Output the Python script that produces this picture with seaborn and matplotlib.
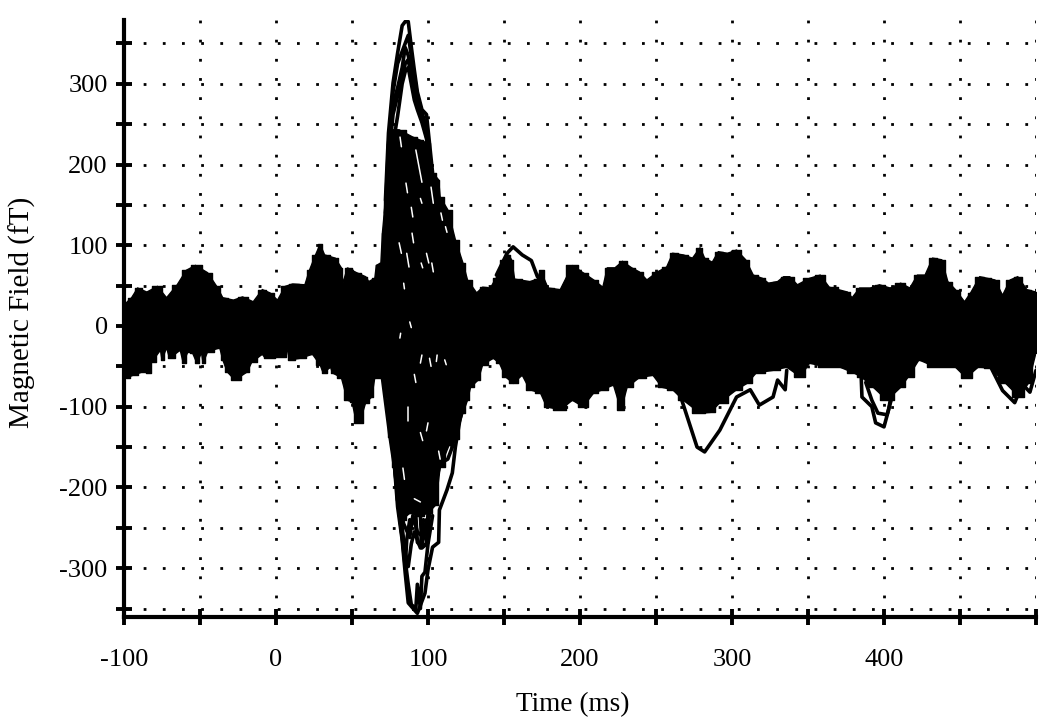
import pandas as pd
import matplotlib
matplotlib.use('Agg')
import matplotlib.pyplot as plt
import seaborn as sns

# Outer edge of the dense black band (ms, fT)
upper_t = [-100, -95, -91, -85, -78, -72, -65, -59, -53, -45, -39, -35, -28, -22, -15, -9, -4, 1, 6, 11, 19, 22, 26, 29,
           32, 39, 43, 44, 47, 53, 59, 61, 65, 66, 69, 70, 72, 74, 76, 81, 90, 95, 99, 103, 107, 108, 113, 118, 123,
           126, 132, 136, 141, 145, 150, 153, 155, 157, 167, 172, 174, 179, 187, 195, 202, 209, 215, 218, 223, 228, 234,
           239, 244, 251, 257, 261, 268, 274, 279, 282, 287, 291, 297, 303, 309, 314, 320, 324, 330, 334, 338, 343,
           351, 358, 364, 376, 379, 384, 391, 397, 404, 411, 417, 422, 427, 432, 438, 442, 447, 453, 457, 463, 468,
           473, 478, 483, 488, 494, 500]
upper_v = [26, 35, 47, 42, 49, 35, 51, 69, 75, 66, 49, 35, 32, 36, 30, 45, 41, 32, 49, 52, 51, 69, 88, 101,
           88, 84, 72, 53, 72, 66, 61, 55, 59, 75, 78, 115, 156, 225, 243, 243, 234, 230, 227, 190, 181, 160, 144,
           107, 78, 57, 41, 48, 47, 60, 82, 88, 82, 58, 55, 58, 69, 47, 45, 75, 66, 57, 48, 72, 72, 80, 72,
           67, 57, 67, 73, 90, 88, 84, 97, 84, 79, 92, 90, 94, 82, 63, 59, 53, 55, 61, 61, 51,
           59, 63, 48, 42, 35, 47, 47, 51, 47, 53, 47, 63, 63, 84, 82, 55, 45, 30, 41, 61, 59,
           57, 38, 57, 61, 45, 42]
lower_t = [-100, -98, -94, -88, -83, -82, -76, -75, -72, -70, -63, -61, -58, -55, -52, -49, -48, -45, -37, -35, -32, -27,
           -19, -16, -9, -7, 6, 7, 9, 16, 24, 29, 31, 36, 37, 43, 47, 50, 53, 55, 59, 63, 65, 70, 73, 75, 78, 80, 83,
           88, 95, 100, 105, 108, 114, 118, 123, 126, 128, 133, 136, 143, 147, 151, 156, 162, 167, 174, 178, 187,
           195, 202, 209, 215, 222, 227, 231, 239, 248, 254, 261, 268, 279, 286, 292, 303, 310, 316, 327, 336, 345,
           351, 362, 371, 380, 385, 393, 402, 411, 416, 423, 434, 447, 454, 462, 470, 480, 489, 495, 500]
lower_v = [-62, -64, -61, -57, -58, -45, -30, -42, -27, -40, -30, -46, -32, -33, -46, -33, -46, -32, -27, -42, -57, -67,
           -57, -45, -35, -40, -38, -26, -42, -40, -35, -48, -58, -51, -58, -64, -92, -94, -120, -120, -95, -88, -64,
           -64, -88, -137, -175, -215, -240, -232, -235, -232, -222, -175, -147, -140, -108, -92, -76, -67, -48, -40,
           -46, -63, -71, -61, -79, -83, -100, -104, -92, -100, -83, -79, -73, -104, -76, -64, -61, -76, -79, -92, -108,
           -107, -95, -79, -71, -58, -55, -51, -63, -46, -51, -51, -58, -63, -76, -92, -76, -63, -42, -51, -51, -64,
           -51, -52, -71, -88, -71, -33]

# Individual traces that stand clear of the band
peak_t = [72, 74, 77, 80, 83, 85, 87, 89, 91, 93, 96, 99, 103]
peak_a = [156, 239, 301, 338, 372, 377, 377, 346, 317, 290, 268, 262, 190]
peak_b = [140, 225, 290, 325, 340, 350, 360, 335, 310, 285, 265, 245, 180]
peak_c = [130, 215, 275, 295, 320, 345, 335, 315, 297, 278, 262, 240, 185]
peak_d = [120, 205, 262, 285, 305, 325, 330, 308, 290, 272, 258, 235, 180]
peak_e = [110, 200, 225, 260, 300, 315, 320, 300, 280, 268, 252, 232, 175]

trough_a_t = [70, 75, 78, 80, 83, 85, 87, 93, 98, 100, 103, 107, 107.5, 112.5, 116, 118, 121, 124]
trough_a_v = [-64, -137, -175, -224, -265, -306, -343, -356, -331, -302, -274, -268, -228, -203, -182, -150, -116, -92]
trough_b_t = [75, 78, 80, 83, 85, 87, 89, 92, 93, 95, 96, 98, 100, 103]
trough_b_v = [-130, -170, -215, -260, -290, -320, -345, -350, -320, -350, -310, -305, -270, -235]
trough_c_t = [78, 80, 83, 85, 87, 89, 91, 93, 95, 100, 100.5, 105]
trough_c_v = [-160, -200, -250, -280, -298, -270, -255, -265, -275, -268, -228, -215]
trough_d_t = [96, 101, 105, 108, 113, 116, 120]
trough_d_v = [-270, -235, -195, -170, -165, -150, -110]
trough_e_t = [80, 84, 88, 90, 93, 97, 99]
trough_e_v = [-215, -245, -262, -235, -255, -262, -240]
trough_f_t = [78, 81, 83, 85, 86, 88]
trough_f_v = [-175, -230, -262, -298, -265, -240]
trough_g_t = [95, 96, 99, 100]
trough_g_v = [-235, -275, -270, -232]
trough_h_t = [92, 93, 95, 97]
trough_h_v = [-235, -268, -272, -240]

bump_t = [145, 152, 156, 162, 168, 172]
bump_v = [63, 90, 98, 88, 81, 61]
deep_280_t = [267, 277, 282, 292, 303, 312, 318, 327, 330, 335, 336]
deep_280_v = [-92, -150, -156, -129, -88, -79, -98, -88, -67, -79, -55]
deep_400_t = [385, 385.5, 392, 394.5, 400, 403, 405, 411]
deep_400_v = [-63, -88, -100, -120, -125, -104, -83, -71]
inner_400_t = [388, 392, 396, 402, 405]
inner_400_v = [-70, -92, -108, -110, -90]
end_t = [470, 478, 486, 491, 496, 500]
end_v = [-50, -80, -95, -72, -82, -55]

# Small white gaps left between the traces (start ms, start fT, end ms, end fT)
gap_t0 = [81.6, 85.5, 92, 102, 99, 86, 89, 89.5, 81, 95, 108.5, 111.5, 102.5, 95.5, 87, 100, 95, 107, 91, 83.5, 84, 88, 82, 96, 101, 106, 111, 91]
gap_v0 = [234, 177, 218, 172, 90, 90, 147, 115, 103, 158, 140, 123, 78, 78, -100, -120, -132, -155, -214, -176, 53, 5, -9, -36, -40, -36, -42, -60]
gap_t1 = [82.5, 86.5, 96, 103.5, 100.5, 87.5, 90, 90.5, 82.5, 96, 109.5, 112.5, 103.5, 96.5, 87, 99, 96.5, 108, 95, 84.5, 84.5, 89, 81.5, 95, 102, 105.5, 112, 92]
gap_v1 = [222, 165, 178, 152, 78, 73, 135, 103, 90, 152, 131, 116, 67, 72, -118, -130, -142, -165, -218, -190, 46, -2, -15, -46, -50, -44, -48, -70]

x_ticks = [-100, -50, 0, 50, 100, 150, 200, 250, 300, 350, 400, 450, 500]
x_labels = ['-100', '', '0', '', '100', '', '200', '', '300', '', '400', '', '']
y_ticks = [-350, -300, -250, -200, -150, -100, -50, 0, 50, 100, 150, 200, 250, 300, 350]
y_labels = ['', '-300', '', '-200', '', '-100', '', '0', '', '100', '', '200', '', '300', '']


def long_form(traces):
    frames = []
    for i, (t, v) in enumerate(traces):
        frames.append(pd.DataFrame({'time': t, 'field': v, 'trace': i}))
    return pd.concat(frames, ignore_index=True)


def main():
    sns.set_theme(style='white')
    plt.rcParams['font.family'] = ['Liberation Serif']

    fig = plt.figure(figsize=(10.5, 7.26), dpi=100)
    ax = fig.add_axes([124 / 1050, 1 - 617 / 726, 912 / 1050, 597 / 726])

    # stepped plus straight fill, the notches of the steps alone came out too square
    ax.fill(upper_t + lower_t[::-1], upper_v + lower_v[::-1], color='black', lw=1.0, zorder=3)
    ax.fill_between(upper_t, upper_v, 0, step='mid', color='black', lw=1.0, zorder=3)
    ax.fill_between(lower_t, lower_v, 0, step='mid', color='black', lw=1.0, zorder=3)

    black = long_form([
        (peak_t, peak_a), (peak_t, peak_b), (peak_t, peak_c), (peak_t, peak_d), (peak_t, peak_e),
        (trough_a_t, trough_a_v), (trough_b_t, trough_b_v), (trough_c_t, trough_c_v), (trough_d_t, trough_d_v),
        (trough_e_t, trough_e_v), (trough_f_t, trough_f_v), (trough_g_t, trough_g_v), (trough_h_t, trough_h_v),
        (bump_t, bump_v), (deep_280_t, deep_280_v), (deep_400_t, deep_400_v),
        (inner_400_t, inner_400_v), (end_t, end_v),
    ])
    sns.lineplot(data=black, x='time', y='field', units='trace', estimator=None, sort=False,
                 color='black', linewidth=2.6, ax=ax, zorder=4)

    gaps = long_form([([a, b], [c, d]) for a, b, c, d in zip(gap_t0, gap_t1, gap_v0, gap_v1)])
    sns.lineplot(data=gaps, x='time', y='field', units='trace', estimator=None, sort=False,
                 color='white', linewidth=1.1, ax=ax, zorder=5)

    ax.set_xlim(-100, 500)
    ax.set_ylim(-360.5, 379)
    ax.set_xticks(x_ticks, x_labels)
    ax.set_yticks(y_ticks, y_labels)
    ax.tick_params(axis='both', which='major', direction='inout', length=11.5, width=2.8,
                   color='black', labelcolor='black', labelsize=19, bottom=True, left=True)
    ax.tick_params(axis='x', pad=17)
    ax.tick_params(axis='y', pad=6)

    ax.grid(True, color='black', linewidth=2.0, linestyle=(0, (1, 5.9)), dash_capstyle='butt')
    ax.set_axisbelow(True)

    sns.despine(ax=ax)
    for side in ['left', 'bottom']:
        ax.spines[side].set_linewidth(3.0)
        ax.spines[side].set_color('black')

    ax.set_xlabel('')
    ax.set_ylabel('')
    fig.text(573 / 1050, 1 - 705 / 726, 'Time (ms)', ha='center', va='center', fontsize=19.6, color='black')
    fig.text(22 / 1050, 1 - 312 / 726, 'Magnetic Field (fT)', ha='center', va='center', rotation=90,
             fontsize=21, color='black')

    fig.savefig('out.png', dpi=100)


if __name__ == '__main__':
    main()
